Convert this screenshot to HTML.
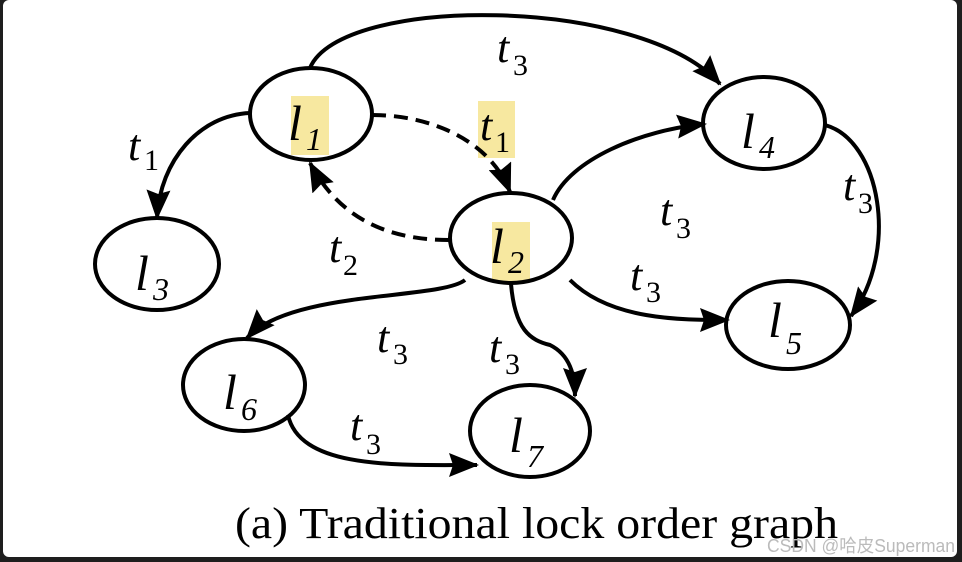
<!DOCTYPE html>
<html><head><meta charset="utf-8"><style>
html,body{margin:0;padding:0;background:#1e1e1e;}
svg{display:block;}
</style></head><body>
<svg width="962" height="562" viewBox="0 0 962 562" xmlns="http://www.w3.org/2000/svg">
<defs>
<marker id="h" viewBox="0 0 30 24" refX="28" refY="12" markerWidth="30" markerHeight="24" markerUnits="userSpaceOnUse" orient="auto"><path d="M0,0 L30,12 L0,24 L4,12 z" fill="#000"/></marker>
</defs>
<rect x="3" y="0" width="954" height="557" rx="6" fill="#fff"/>
<rect x="291" y="96" width="38" height="59" fill="#f7e8a0"/>
<rect x="478" y="101" width="37" height="57" fill="#f7e8a0"/>
<rect x="492" y="222" width="38" height="60" fill="#f7e8a0"/>
<g fill="none" stroke="#000" stroke-width="4">
<ellipse cx="311" cy="114" rx="61" ry="46"/>
<ellipse cx="157" cy="264" rx="62" ry="46"/>
<ellipse cx="511" cy="238" rx="61" ry="45"/>
<ellipse cx="764" cy="123" rx="61" ry="46"/>
<ellipse cx="788" cy="325" rx="62" ry="44"/>
<ellipse cx="244" cy="385" rx="61" ry="46"/>
<ellipse cx="530" cy="431" rx="60" ry="46"/>
<g marker-end="url(#h)">
<path d="M310,68 C340,-5 640,-5 720,84"/>
<path d="M250,113 C200,115 160,160 157,218"/>
<path d="M372,115 C430,115 490,140 510,192" stroke-dasharray="14,8"/>
<path d="M449,240 C390,240 340,220 310,163" stroke-dasharray="14,8"/>
<path d="M553,200 C570,160 640,130 705,124"/>
<path d="M570,280 C610,320 680,320 728,320"/>
<path d="M825,125 C880,140 900,250 851,316"/>
<path d="M465,280 C440,300 290,290 247,338"/>
<path d="M511,284 C515,330 530,340 550,345 C570,355 575,375 575,396"/>
<path d="M288,415 C300,470 400,465 477,465"/>
</g>
</g>
<g font-family="Liberation Serif, serif" font-style="italic" fill="#000">
<text x="288" y="140" font-size="50">l</text><text x="306" y="150" font-size="32">1</text>
<text x="135" y="290" font-size="50">l</text><text x="153" y="300" font-size="32">3</text>
<text x="490" y="263" font-size="50">l</text><text x="508" y="273" font-size="32">2</text>
<text x="741" y="148" font-size="50">l</text><text x="759" y="158" font-size="32">4</text>
<text x="768" y="337" font-size="50">l</text><text x="786" y="354" font-size="32">5</text>
<text x="223" y="409" font-size="50">l</text><text x="241" y="420" font-size="32">6</text>
<text x="509" y="452" font-size="50">l</text><text x="527" y="467" font-size="32">7</text>
</g>
<g font-family="Liberation Serif, serif" fill="#000">
<g font-style="italic" font-size="44">
<text x="497" y="62">t</text><text x="128" y="160">t</text><text x="480" y="140">t</text>
<text x="660" y="225">t</text><text x="843" y="200">t</text><text x="329" y="262">t</text>
<text x="630" y="290">t</text><text x="377" y="352">t</text><text x="489" y="362">t</text>
<text x="350" y="440">t</text>
</g>
<g font-size="30">
<text x="513" y="75">3</text><text x="144" y="170">1</text><text x="495" y="152">1</text>
<text x="676" y="238">3</text><text x="858" y="213">3</text><text x="343" y="275">2</text>
<text x="646" y="302">3</text><text x="393" y="364">3</text><text x="505" y="374">3</text>
<text x="366" y="454">3</text>
</g>
<text x="235" y="538" font-size="44" textLength="603" lengthAdjust="spacingAndGlyphs">(a) Traditional lock order graph</text>
</g>
<text x="767" y="552" font-family="Liberation Sans, 'Noto Sans CJK SC', sans-serif" font-size="18" fill="#bbb" textLength="188" lengthAdjust="spacingAndGlyphs">CSDN @哈皮Superman</text>
</svg>
</body></html>
